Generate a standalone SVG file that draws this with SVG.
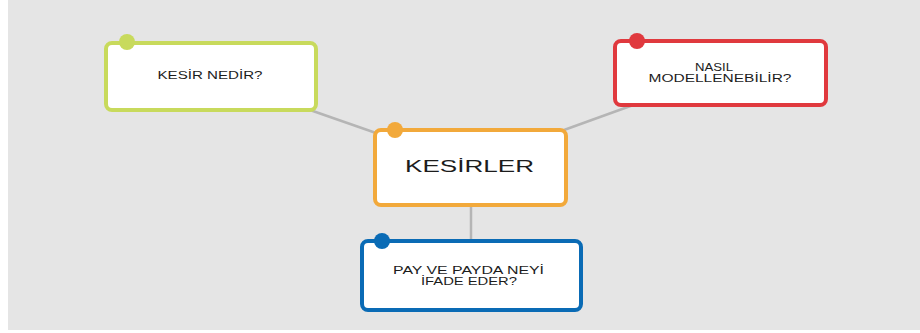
<svg xmlns="http://www.w3.org/2000/svg" width="920" height="333" viewBox="0 0 920 333">
<style>
.box{fill:#fff;stroke-width:4}
.t{font-family:"Liberation Sans",Arial,sans-serif;fill:#1c1c1c;text-anchor:middle;font-size:10px}
.big{font-size:16px}
.c{stroke:#b5b5b5;stroke-width:2.5;fill:none}
</style>
<rect x="0" y="0" width="920" height="333" fill="#fff"/>
<rect x="8" y="0" width="912" height="330" fill="#e5e5e5"/>
<g id="connectors">
<line class="c" x1="310" y1="110" x2="376" y2="133"/>
<line class="c" x1="564" y1="130" x2="636" y2="104"/>
<line class="c" x1="471" y1="206" x2="471" y2="240"/>
</g>
<g id="n1">
<rect class="box" x="106" y="43" width="210" height="67" rx="6" stroke="#c8da5c"/>
<circle cx="127" cy="42" r="8" fill="#c8da5c"/>
<text class="t" x="210" y="79" textLength="105" lengthAdjust="spacingAndGlyphs">KESİR NEDİR?</text>
</g>
<g id="n2">
<rect class="box" x="615" y="41" width="211" height="64" rx="6" stroke="#e0393e"/>
<circle cx="637" cy="41" r="8" fill="#e0393e"/>
<text class="t" x="714" y="71" textLength="38" lengthAdjust="spacingAndGlyphs">NASIL</text>
<text class="t" x="720" y="82" textLength="143" lengthAdjust="spacingAndGlyphs">MODELLENEBİLİR?</text>
</g>
<g id="n3">
<rect class="box" x="375" y="130" width="191" height="75" rx="6" stroke="#f2a93b"/>
<circle cx="395" cy="130" r="8" fill="#f2a93b"/>
<text class="t big" x="469.5" y="172" textLength="129" lengthAdjust="spacingAndGlyphs">KESİRLER</text>
</g>
<g id="n4">
<rect class="box" x="362" y="241" width="219" height="69" rx="6" stroke="#0a6bb5"/>
<circle cx="382" cy="241" r="8" fill="#0a6bb5"/>
<text class="t" x="468.5" y="274" textLength="151" lengthAdjust="spacingAndGlyphs">PAY VE PAYDA NEYİ</text>
<text class="t" x="469" y="285" textLength="96" lengthAdjust="spacingAndGlyphs">İFADE EDER?</text>
</g>
</svg>
